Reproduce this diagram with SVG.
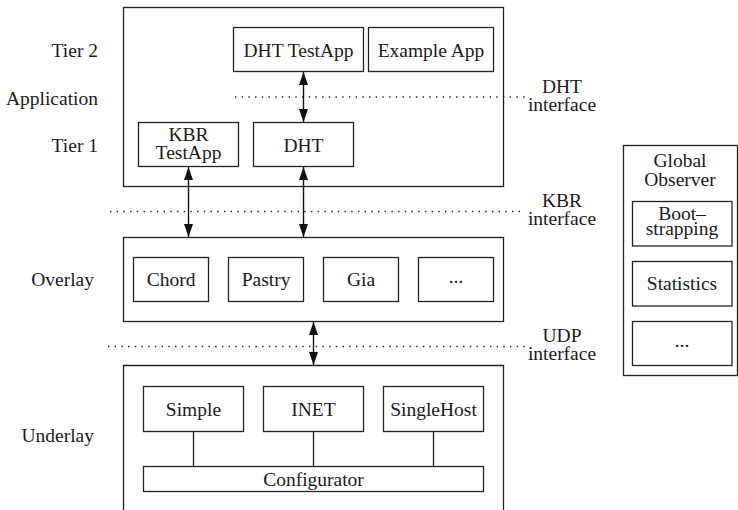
<svg xmlns="http://www.w3.org/2000/svg" width="738" height="510" viewBox="0 0 738 510">
<defs>
<style>
.box{fill:#fff;stroke:#222;stroke-width:1.3}
.frame{fill:none;stroke:#222;stroke-width:1.3}
.t{font-family:"Liberation Serif","Times New Roman",serif;font-size:19.5px;fill:#1a1a1a}
.c{text-anchor:middle}
.e{text-anchor:end}
.dot{stroke:#222;stroke-width:1.4;stroke-dasharray:1.4 5.3;fill:none}
.ar{stroke:#111;stroke-width:1.4;fill:none;marker-start:url(#ah);marker-end:url(#ah)}
.ln{stroke:#222;stroke-width:1.3;fill:none}
</style>
<marker id="ah" markerUnits="userSpaceOnUse" markerWidth="14" markerHeight="10" refX="13" refY="4.5" orient="auto-start-reverse" viewBox="0 0 14 10">
<path d="M0,0 L13,4.5 L0,9 z" fill="#111"/>
</marker>
</defs>

<g id="labels">
<text class="t e" x="98" y="57">Tier 2</text>
<text class="t e" x="98" y="105">Application</text>
<text class="t e" x="98" y="152">Tier 1</text>
<text class="t e" x="94" y="286">Overlay</text>
<text class="t e" x="94" y="442">Underlay</text>
</g>

<g id="application">
<rect class="box" x="123.5" y="7.5" width="380" height="179"/>
</g>
<g id="dht-testapp">
<rect class="box" x="233.5" y="27.5" width="130" height="44"/>
<text class="t c" x="298.5" y="57">DHT TestApp</text>
</g>
<g id="example-app">
<rect class="box" x="368.5" y="27.5" width="125" height="44"/>
<text class="t c" x="431" y="57">Example App</text>
</g>
<g id="kbr-testapp">
<rect class="box" x="138.5" y="122.5" width="100" height="44"/>
<text class="t c" x="188.5" y="141">KBR</text>
<text class="t c" x="188.5" y="159">TestApp</text>
</g>
<g id="dht">
<rect class="box" x="253.5" y="122.5" width="100" height="44"/>
<text class="t c" x="303.5" y="152">DHT</text>
</g>

<g id="overlay">
<rect class="box" x="123.5" y="237.5" width="380" height="84"/>
</g>
<g id="chord">
<rect class="box" x="133.5" y="257.5" width="75" height="44"/>
<text class="t c" x="171" y="286">Chord</text>
</g>
<g id="pastry">
<rect class="box" x="228.5" y="257.5" width="75" height="44"/>
<text class="t c" x="266" y="286">Pastry</text>
</g>
<g id="gia">
<rect class="box" x="323.5" y="257.5" width="75" height="44"/>
<text class="t c" x="361" y="286">Gia</text>
</g>
<g id="overlay-more">
<rect class="box" x="418.5" y="257.5" width="75" height="44"/>
<text class="t c" x="456" y="283">...</text>
</g>

<g id="underlay">
<path class="frame" d="M123.5,511 V365.5 H503.5 V511"/>
</g>
<g id="simple">
<rect class="box" x="143.5" y="386.5" width="100" height="45"/>
<text class="t c" x="193.5" y="416">Simple</text>
</g>
<g id="inet">
<rect class="box" x="263.5" y="386.5" width="100" height="45"/>
<text class="t c" x="313.5" y="416">INET</text>
</g>
<g id="singlehost">
<rect class="box" x="383.5" y="386.5" width="100" height="45"/>
<text class="t c" x="433.5" y="416">SingleHost</text>
</g>
<g id="configurator">
<rect class="box" x="143.5" y="466.5" width="340" height="25"/>
<text class="t c" x="313.5" y="486">Configurator</text>
</g>

<g id="global-observer">
<rect class="box" x="623.5" y="145.5" width="114" height="230"/>
<text class="t c" x="680" y="167">Global</text>
<text class="t c" x="680" y="186">Observer</text>
</g>
<g id="bootstrapping">
<rect class="box" x="632.5" y="201.5" width="99.5" height="44.5"/>
<text class="t c" x="682" y="220">Boot–</text>
<text class="t c" x="682" y="235">strapping</text>
</g>
<g id="statistics">
<rect class="box" x="632.5" y="261.5" width="99.5" height="44.5"/>
<text class="t c" x="682" y="290">Statistics</text>
</g>
<g id="observer-more">
<rect class="box" x="632.5" y="321.5" width="99.5" height="44"/>
<text class="t c" x="682" y="347">...</text>
</g>

<g id="interfaces">
<line class="dot" x1="235" y1="97" x2="525" y2="97"/>
<text class="t c" x="562" y="93">DHT</text>
<text class="t c" x="562" y="111">interface</text>
<line class="dot" x1="110" y1="211.5" x2="525" y2="211.5"/>
<text class="t c" x="562" y="207">KBR</text>
<text class="t c" x="562" y="225">interface</text>
<line class="dot" x1="108" y1="346.5" x2="525" y2="346.5"/>
<text class="t c" x="562" y="342">UDP</text>
<text class="t c" x="562" y="360">interface</text>
</g>

<g id="connectors">
<line class="ar" x1="303.5" y1="72" x2="303.5" y2="122"/>
<line class="ar" x1="188.5" y1="167" x2="188.5" y2="237"/>
<line class="ar" x1="303.5" y1="167" x2="303.5" y2="237"/>
<line class="ar" x1="313.5" y1="322" x2="313.5" y2="365"/>
<line class="ln" x1="193.5" y1="431.5" x2="193.5" y2="466.5"/>
<line class="ln" x1="313.5" y1="431.5" x2="313.5" y2="466.5"/>
<line class="ln" x1="433.5" y1="431.5" x2="433.5" y2="466.5"/>
</g>
</svg>
